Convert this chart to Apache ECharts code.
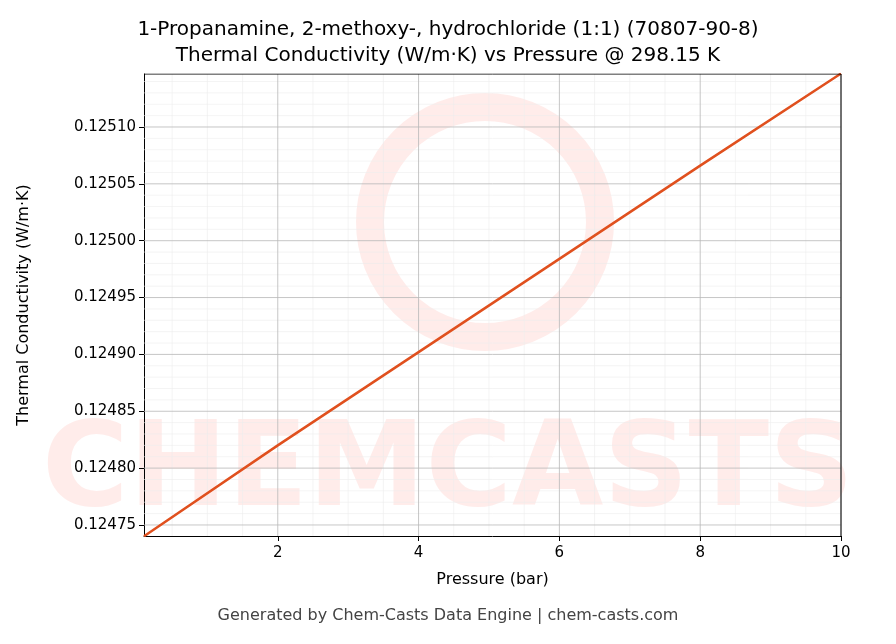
<!DOCTYPE html>
<html><head><meta charset="utf-8">
<script src="https://cdn.jsdelivr.net/npm/echarts@6/dist/echarts.min.js"></script>
<style>html,body{margin:0;padding:0;background:#fff}#c{width:896px;height:644px}</style>
</head><body><div id="c"></div>
<script>
const pressure = [0.1, 2, 4, 6, 8, 10];
const conductivity = [0.124740, 0.124820, 0.124902, 0.124984, 0.125066, 0.125147];
const xTicks = [2, 4, 6, 8, 10];
const yTicks = [0.12475, 0.12480, 0.12485, 0.12490, 0.12495, 0.12500, 0.12505, 0.12510];
const xMin = 0.1, xMax = 10, yMin = 0.1247403, yMax = 0.1251466;

const xMinor = [], yMinor = [];
for (let i = 1; i <= 19; i++) { const v = i * 0.5; if (v > xMin && v < xMax && v % 2 !== 0) xMinor.push(v); }
for (let i = -1; i <= 40; i++) { const v = +(0.12474 + i * 0.00001).toFixed(5); if (v > yMin && v < yMax && !yTicks.some(t => Math.abs(t - v) < 1e-9)) yMinor.push(v); }

const F = 'DejaVu Sans';
const grid = {left:144, top:74, width:697, height:462};
const chart = echarts.init(document.getElementById('c'));
const gridSeries = [];
const addLine = (pts, color, w, z) => gridSeries.push({type:'line', data:pts, showSymbol:false, silent:true, z, lineStyle:{color, width:w}});
xMinor.forEach(v => addLine([[v,yMin],[v,yMax]], '#ececec', 0.6, 1));
yMinor.forEach(v => addLine([[xMin,v],[xMax,v]], '#ececec', 0.6, 1));
xTicks.forEach(v => addLine([[v,yMin],[v,yMax]], '#b8b8b8', 0.8, 2));
yTicks.forEach(v => addLine([[xMin,v],[xMax,v]], '#b8b8b8', 0.8, 2));
addLine([[xMax,yMin],[xMax,yMax]], '#000', 1, 6);
addLine([[xMin,yMax],[xMax,yMax]], '#000', 1, 6);

chart.setOption({
  animation:false,
  title:{text:'1-Propanamine, 2-methoxy-, hydrochloride (1:1) (70807-90-8)\nThermal Conductivity (W/m·K) vs Pressure @ 298.15 K',
    left:'center', top:12, textStyle:{fontFamily:F, fontSize:20, fontWeight:'normal', color:'#000', lineHeight:26}},
  graphic:[
    {type:'circle', shape:{cx:485, cy:222, r:115}, style:{fill:'none', stroke:'rgba(255,180,170,0.25)', lineWidth:28}, z:0},
    {type:'text', left:'center', top:415, style:{text:'CHEMCASTS', font:'bold 118px DejaVu Sans', fill:'rgba(255,180,170,0.25)'}, z:0},
    {type:'text', left:'center', top:608, style:{text:'Generated by Chem-Casts Data Engine | chem-casts.com', font:'16px DejaVu Sans', fill:'#444'}}
  ],
  grid,
  xAxis:{type:'value', min:xMin, max:xMax, name:'Pressure (bar)', nameLocation:'middle', nameGap:36,
    nameTextStyle:{fontFamily:F, fontSize:16, color:'#000'},
    axisLine:{onZero:false, lineStyle:{color:'#000'}},
    axisTick:{customValues:xTicks, length:5, lineStyle:{color:'#000'}},
    axisLabel:{customValues:xTicks, fontFamily:F, fontSize:15, color:'#000', margin:10},
    splitLine:{show:false}},
  yAxis:{type:'value', min:yMin, max:yMax, name:'Thermal Conductivity (W/m·K)', nameLocation:'middle', nameGap:112,
    nameTextStyle:{fontFamily:F, fontSize:16, color:'#000'},
    axisLine:{onZero:false, lineStyle:{color:'#000'}},
    axisTick:{customValues:yTicks, length:5, lineStyle:{color:'#000'}},
    axisLabel:{customValues:yTicks, fontFamily:F, fontSize:15, color:'#000', formatter:v=>v.toFixed(5)},
    splitLine:{show:false}},
  series:[
    ...gridSeries,
    {type:'line', data:pressure.map((p,i)=>[p, conductivity[i]]), showSymbol:false, z:5,
     lineStyle:{color:'#e0501e', width:2.5}}
  ]
});
</script></body></html>
